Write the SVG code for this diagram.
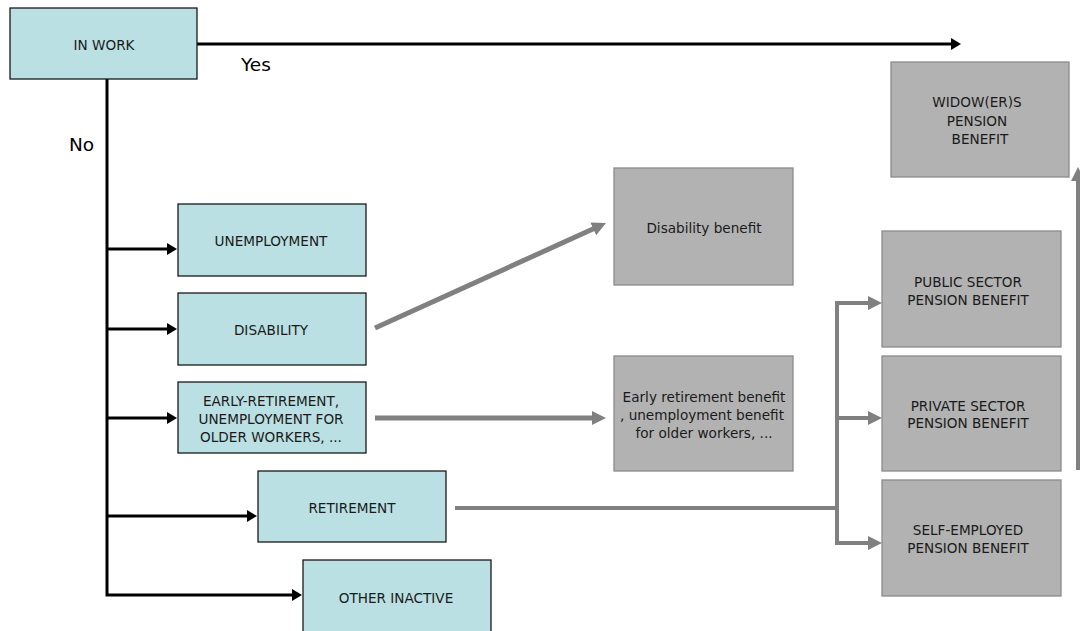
<svg xmlns="http://www.w3.org/2000/svg" width="1080" height="631" viewBox="0 0 1080 631">
<style>
.work{fill:#bbe0e3;stroke:#1a1a1a;stroke-width:1.3}
.ben{fill:#b2b2b2;stroke:#8a8a8a;stroke-width:1.3}
text{font-family:"DejaVu Sans",Verdana,sans-serif;font-size:13.6px;fill:#1a1a1a;text-anchor:middle}
.big{font-size:18.5px;text-anchor:start;fill:#000}
.blk{fill:none;stroke:#000;stroke-width:3;stroke-linejoin:miter;stroke-linecap:butt}
.gry{fill:none;stroke:#808080;stroke-width:5;stroke-linecap:butt}
.gry4{fill:none;stroke:#808080;stroke-width:4;stroke-linecap:butt}
</style>
<defs>
<marker id="ab" markerUnits="userSpaceOnUse" markerWidth="12" markerHeight="12" refX="1" refY="6" orient="auto" viewBox="0 0 12 12">
<path d="M0,0 L10,6 L0,12 z" fill="#000"/>
</marker>
<marker id="ag" markerUnits="userSpaceOnUse" markerWidth="16" markerHeight="16" refX="2" refY="8" orient="auto" viewBox="0 0 16 16">
<path d="M0,1 L14,8 L0,15 z" fill="#808080"/>
</marker>
</defs>
<g id="connectors">
<path class="blk" d="M197,44 H952" marker-end="url(#ab)"/>
<path class="blk" d="M107,79 V595 H293" marker-end="url(#ab)"/>
<path class="blk" d="M107,249 H168" marker-end="url(#ab)"/>
<path class="blk" d="M107,329 H168" marker-end="url(#ab)"/>
<path class="blk" d="M107,418 H168" marker-end="url(#ab)"/>
<path class="blk" d="M107,516 H248" marker-end="url(#ab)"/>
<path class="gry" d="M375,328 L595.1,228" marker-end="url(#ag)"/>
<path class="gry" d="M375,418 H594" marker-end="url(#ag)"/>
<path class="gry4" d="M455,508 H837"/>
<path class="gry4" d="M837,301 V545"/>
<path class="gry4" d="M835,303 H870" marker-end="url(#ag)"/>
<path class="gry4" d="M837,418 H870" marker-end="url(#ag)"/>
<path class="gry4" d="M835,543 H870" marker-end="url(#ag)"/>
<path class="gry4" d="M1078,470 V179" marker-end="url(#ag)"/>
</g>
<g id="in-work">
<rect class="work" x="10" y="8" width="187" height="71"/>
<text x="104" y="50">IN WORK</text>
</g>
<text class="big" x="241" y="71">Yes</text>
<text class="big" x="69" y="151">No</text>
<g id="unemployment">
<rect class="work" x="178" y="204" width="188" height="72"/>
<text x="271" y="246">UNEMPLOYMENT</text>
</g>
<g id="disability">
<rect class="work" x="178" y="293" width="188" height="72"/>
<text x="271" y="335">DISABILITY</text>
</g>
<g id="early-retirement">
<rect class="work" x="178" y="382" width="188" height="71"/>
<text x="271" y="406">EARLY-RETIREMENT,</text>
<text x="271" y="424">UNEMPLOYMENT FOR</text>
<text x="271" y="442">OLDER WORKERS, ...</text>
</g>
<g id="retirement">
<rect class="work" x="258" y="471" width="188" height="71"/>
<text x="352" y="513">RETIREMENT</text>
</g>
<g id="other-inactive">
<rect class="work" x="303" y="560" width="188" height="80"/>
<text x="396" y="603">OTHER INACTIVE</text>
</g>
<g id="disability-benefit">
<rect class="ben" x="614" y="168" width="179" height="117"/>
<text x="704" y="233">Disability benefit</text>
</g>
<g id="early-retirement-benefit">
<rect class="ben" x="614" y="356" width="179" height="115"/>
<text x="704" y="402">Early retirement benefit</text>
<text x="702" y="420">, unemployment benefit</text>
<text x="704" y="438">for older workers, ...</text>
</g>
<g id="widowers-pension-benefit">
<rect class="ben" x="891" y="62" width="178" height="115"/>
<text x="977" y="107">WIDOW(ER)S</text>
<text x="977" y="126">PENSION</text>
<text x="980" y="144">BENEFIT</text>
</g>
<g id="public-sector-pension-benefit">
<rect class="ben" x="882" y="231" width="179" height="116"/>
<text x="968" y="287">PUBLIC SECTOR</text>
<text x="968" y="305">PENSION BENEFIT</text>
</g>
<g id="private-sector-pension-benefit">
<rect class="ben" x="882" y="356" width="179" height="115"/>
<text x="968" y="411">PRIVATE SECTOR</text>
<text x="968" y="428">PENSION BENEFIT</text>
</g>
<g id="self-employed-pension-benefit">
<rect class="ben" x="882" y="480" width="179" height="116"/>
<text x="968" y="535">SELF-EMPLOYED</text>
<text x="968" y="553">PENSION BENEFIT</text>
</g>
</svg>
